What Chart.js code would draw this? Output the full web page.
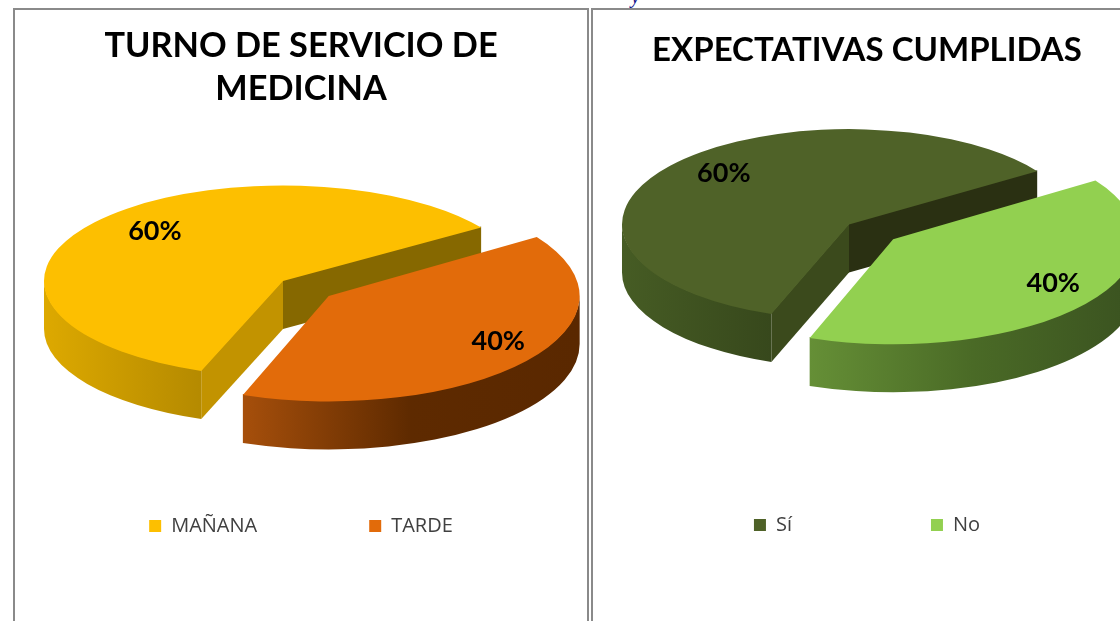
<!DOCTYPE html>
<html>
<head>
<meta charset="utf-8">
<script src="https://cdn.jsdelivr.net/npm/chart.js@4"></script>
<style>
html,body{margin:0;padding:0;background:#fff;width:1120px;height:621px;overflow:hidden;position:relative}
.panel{position:absolute;top:8px;height:640px;border:2px solid #8a8a8a;box-sizing:border-box;background:#fff}
.wrap{position:absolute;top:0;left:0}
canvas{display:block}
#frag{position:absolute;left:631px;top:-15px;font:italic 20px "Liberation Serif";color:#14148c}
</style>
</head>
<body>
<div id="frag">y</div>
<div class="panel" style="left:13px;width:576px"></div>
<div class="panel" style="left:591px;width:560px"></div>
<div class="wrap" style="left:14px;top:9px;width:574px;height:537px"><canvas id="a"></canvas></div>
<div class="wrap" style="left:591px;top:9px;width:552px;height:536px"><canvas id="b"></canvas></div>
<script>
const turnoTitle = ['TURNO DE SERVICIO DE', 'MEDICINA'];
const turnoLabels = ['MAÑANA', 'TARDE'];
const turnoValues = [60, 40];
const turnoColors = ['#FDBF00', '#E26B0A'];

const expectTitle = 'EXPECTATIVAS CUMPLIDAS';
const expectLabels = ['Sí', 'No'];
const expectValues = [60, 40];
const expectColors = ['#4F6228', '#92D050'];

function pie3d(o) {
  return {
    id: 'pie3d',
    beforeDatasetDraw(chart, args) {
      const ctx = chart.ctx, arcs = args.meta.data;
      arcs.forEach((arc, i) => {
        const s = o.squash[i], off = arc.options.offset || 0;
        const mid = (arc.startAngle + arc.endAngle) / 2;
        const r = arc.outerRadius * o.grow[i], px = arc.x + o.dx, py = arc.y + o.dy;
        const cx = px + Math.cos(mid) * off, cy = py + Math.sin(mid) * off * s;
        const rim = t => [cx + Math.cos(t) * r, cy + Math.sin(t) * r * s];
        // The walls start one pixel under the top face so that no light seam shows between them
        const face = (t, color) => {
          const p = rim(t);
          ctx.fillStyle = color;
          ctx.beginPath();
          ctx.moveTo(cx, cy - 1); ctx.lineTo(p[0], p[1] - 1);
          ctx.lineTo(p[0], p[1] + o.depth); ctx.lineTo(cx, cy + o.depth);
          ctx.closePath(); ctx.fill();
        };
        const TAU = Math.PI * 2;
        const a = ((arc.startAngle % TAU) + TAU) % TAU, b = a + (arc.endAngle - arc.startAngle);
        if (Math.cos(b) > 0 && o.backFace[i]) face(b, o.backFace[i]);
        if (Math.cos(a) < 0 && o.frontFace[i]) face(a, o.frontFace[i]);
        [[0, Math.PI], [TAU, TAU + Math.PI]].forEach(([lo, hi]) => {
          const t0 = Math.max(a, lo), t1 = Math.min(b, hi);
          if (t1 <= t0) return;
          const x0 = rim(t0)[0], x1 = rim(t1)[0];
          const g = ctx.createLinearGradient(Math.min(x0, x1), 0, Math.max(x0, x1), 0);
          o.wall[i].forEach((c, k, all) => g.addColorStop(k / (all.length - 1), c));
          ctx.fillStyle = g;
          ctx.beginPath();
          ctx.ellipse(cx, cy - 1, r, r * s, 0, t0, t1);
          ctx.ellipse(cx, cy + o.depth, r, r * s, 0, t1, t0, true);
          ctx.closePath(); ctx.fill();
        });
        // Draw the library's own arc on a squashed context, with the explode applied here
        const top = Object.create(arc);
        top.options = Object.create(arc.options);
        top.options.offset = 0;
        top.outerRadius = r;
        ctx.save();
        ctx.translate(px, py); ctx.scale(1, s);
        ctx.translate(Math.cos(mid) * off - arc.x, Math.sin(mid) * off - arc.y);
        arc.draw.call(top, ctx);
        ctx.restore();
      });
      ctx.save();
      ctx.fillStyle = '#000';
      ctx.font = 'bold 27px Lato';
      ctx.textAlign = 'center'; ctx.textBaseline = 'middle';
      arcs.forEach((arc, i) => {
        const s = o.squash[i], off = arc.options.offset || 0;
        const mid = (arc.startAngle + arc.endAngle) / 2, d = off + arc.outerRadius * o.labelAt[i];
        const v = chart.data.datasets[0].data[i];
        ctx.fillText(v + '%', arc.x + o.dx + Math.cos(mid) * d, arc.y + o.dy + Math.sin(mid) * d * s + o.labelLift);
      });
      ctx.restore();
      return false;
    }
  };
}

function build(id, title, labels, values, colors, cfg) {
  new Chart(document.getElementById(id), {
    type: 'pie',
    data: { labels, datasets: [{ data: values, backgroundColor: colors, borderWidth: 0, offset: [0, cfg.explode] }] },
    plugins: [pie3d(cfg.solid)],
    options: {
      responsive: true, maintainAspectRatio: false, animation: false,
      rotation: 200, radius: cfg.radius,
      layout: { padding: 0 },
      plugins: {
        tooltip: { enabled: false },
        title: { display: true, text: title, color: '#000',
          font: { family: 'Lato', size: cfg.titleSize, weight: 'bold', lineHeight: 1.27 },
          padding: cfg.titlePadding },
        legend: { position: 'bottom',
          labels: { color: '#404040', boxWidth: 12, boxHeight: 12, padding: cfg.legendGap,
            font: { family: 'Open Sans', size: 20 } } }
      }
    }
  });
}

build('a', turnoTitle, turnoLabels, turnoValues, turnoColors, {
  radius: 239, explode: 58, legendGap: 112, titleSize: 34.3, titlePadding: { top: 15, bottom: 41 },
  solid: { dx: -18, dy: 3, depth: 48, squash: [0.40, 0.42], grow: [1, 1.05], labelAt: [0.68, 0.9], labelLift: -10,
    frontFace: ['#C29300', null], backFace: ['#866800', null],
    wall: [['#DDA900', '#B58A00'], ['#A64F0B', '#5E2A00', '#5A2800']] }
});
build('b', expectTitle, expectLabels, expectValues, expectColors, {
  radius: 227, explode: 56, legendGap: 139, titleSize: 33, titlePadding: { top: 20, bottom: 0 },
  solid: { dx: -18, dy: 1, depth: 48, squash: [0.42, 0.43], grow: [1, 1.075], labelAt: [0.7, 0.895], labelLift: -10,
    frontFace: ['#3B4A1C', null], backFace: ['#2A3012', null],
    wall: [['#465C24', '#37481C'], ['#658F36', '#4A6A26', '#3A5220']] }
});
</script>
</body>
</html>
